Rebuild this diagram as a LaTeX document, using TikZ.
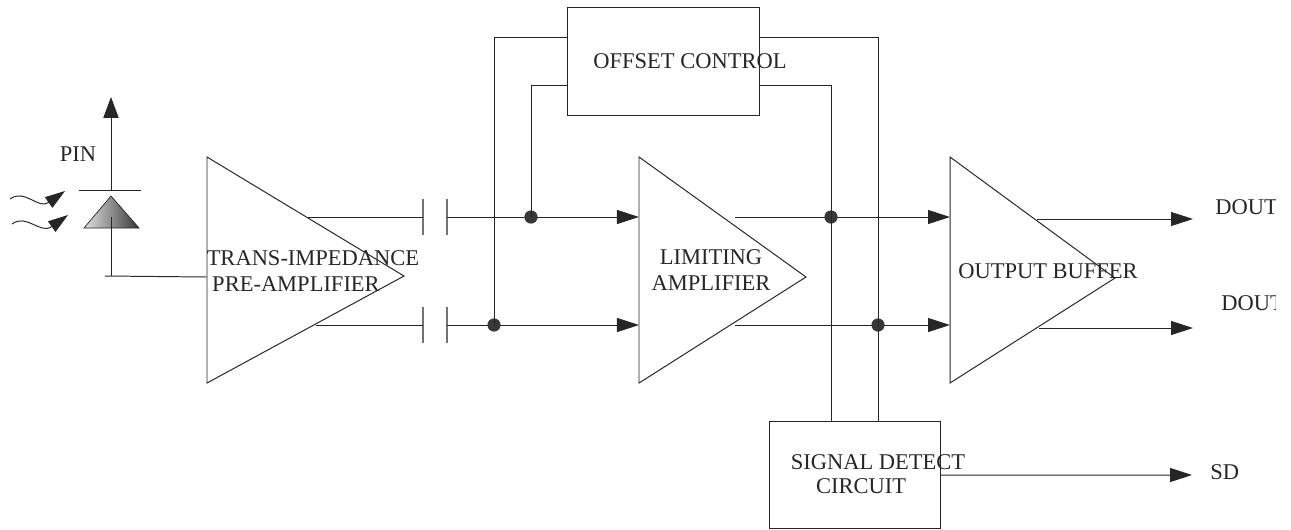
\documentclass[tikz,border=0pt]{standalone}
\usepackage{fontspec}
\setmainfont{Liberation Serif}
\usetikzlibrary{arrows.meta}

\begin{document}
\begin{tikzpicture}[x=0.025cm, y=-0.025cm, wireStyle/.style={draw=black!85, line width=0.7pt}, arrowStyle/.style={wireStyle, -{Triangle[length=0.55cm, width=0.35cm]}}, plateStyle/.style={draw=black!55, line width=1pt}, boxStyle/.style={rectangle, draw=black!85, line width=0.7pt, anchor=north west, inner sep=0}, textStyle/.style={font=\fontsize{16}{18.5}\selectfont, text=black!85, align=center, inner sep=0}, dotStyle/.style={circle, fill=black!78, minimum size=0.33cm, inner sep=0}]
                    \useasboundingbox (0,0) rectangle (1291,529);
                    \coordinate (tia_nw) at ( 207,157);
                    \coordinate (tia_sw) at ( 207,383);
                    \coordinate (tia_e)  at ( 404,276);
                    \coordinate (la_nw)  at ( 639,157);
                    \coordinate (la_sw)  at ( 639,383);
                    \coordinate (la_e)   at ( 806,277);
                    \coordinate (ob_nw)  at ( 950,157);
                    \coordinate (ob_sw)  at ( 950,383);
                    \coordinate (ob_e)   at (1115,278);
                    \draw[wireStyle] (tia_nw) -- (tia_e) -- (tia_sw) -- cycle;
                    \draw[wireStyle] (la_nw) -- (la_e) -- (la_sw) -- cycle;
                    \draw[wireStyle] (ob_nw) -- (ob_e) -- (ob_sw) -- cycle;
                    \node[textStyle] (tia_l1) at ( 313,258) {TRANS-IMPEDANCE};
                    \node[textStyle] (tia_l2) at ( 296,284) {PRE-AMPLIFIER};
                    \node[textStyle] (la)     at ( 711,270) {LIMITING\\AMPLIFIER};
                    \node[textStyle] (ob)     at (1048,271) {OUTPUT BUFFER};
                    \node[boxStyle, minimum width=4.8cm, minimum height=2.7cm] (oc) at (567,7) {};
                    \node[textStyle] (oc_text) at (690,61) {OFFSET CONTROL};
                    \node[boxStyle, minimum width=4.275cm, minimum height=2.675cm] (sd) at (769,421) {};
                    \node[textStyle] (sd_l1) at (878,462) {SIGNAL DETECT};
                    \node[textStyle] (sd_l2) at (861,486) {CIRCUIT};
                    \coordinate (pin_top) at (111, 97);
                    \coordinate (pin_bar) at (111,190);
                    \coordinate (pin_k)   at (111,217);
                    \coordinate (pin_low) at (111,276);
                    \coordinate (pin_end) at (105,276);
                    \coordinate (tia_in)  at (207,277);
                    \draw[wireStyle, -{Triangle[length=0.52cm, width=0.38cm]}] (pin_bar) -- (pin_top);
                    \draw[wireStyle] (79,190) -- (141,190);
                    \shadedraw[left color=black!12, right color=black!78, draw=black!85, line width=0.5pt] (111,196) -- (139,228) -- (84,228) -- cycle;
                    \draw[wireStyle] (pin_k) -- (pin_low);
                    \draw[wireStyle] (pin_end) -- (tia_in);
                    \draw[wireStyle, -{Triangle[length=0.5cm, width=0.32cm]}] (10,199) .. controls (25,188) and (38,210) .. (65,191);
                    \draw[wireStyle, -{Triangle[length=0.5cm, width=0.32cm]}] (12,224) .. controls (27,213) and (40,235) .. (68,215);
                    \node[textStyle] (pin) at (78,154) {PIN};
                    \coordinate (tia_o1) at (308,217);
                    \coordinate (tia_o2) at (316,325);
                    \coordinate (cap1_a) at (423,217);
                    \coordinate (cap1_b) at (447,217);
                    \coordinate (cap2_a) at (423,325);
                    \coordinate (cap2_b) at (447,325);
                    \draw[plateStyle] (423,199) -- (423,235);
                    \draw[plateStyle] (447,199) -- (447,235);
                    \draw[plateStyle] (423,307) -- (423,343);
                    \draw[plateStyle] (447,307) -- (447,343);
                    \coordinate (la_i1) at (639,217);
                    \coordinate (la_i2) at (639,325);
                    \coordinate (la_o1) at (735,217);
                    \coordinate (la_o2) at (735,325);
                    \coordinate (ob_i1) at (950,217);
                    \coordinate (ob_i2) at (950,325);
                    \coordinate (ob_o1) at (1037,219);
                    \coordinate (ob_o2) at (1039,328);
                    \coordinate (dout1) at (1193,219);
                    \coordinate (dout2) at (1193,328);
                    \coordinate (sd_o)  at (1192,475);
                    \draw[wireStyle] (tia_o1) -- (cap1_a);
                    \draw[wireStyle] (tia_o2) -- (cap2_a);
                    \draw[arrowStyle] (cap1_b) -- (la_i1);
                    \draw[arrowStyle] (cap2_b) -- (la_i2);
                    \draw[arrowStyle] (la_o1) -- (ob_i1);
                    \draw[arrowStyle] (la_o2) -- (ob_i2);
                    \draw[arrowStyle] (ob_o1) -- (dout1);
                    \draw[arrowStyle] (ob_o2) -- (dout2);
                    \draw[arrowStyle] (sd.east) -- (sd_o);
                    \node[dotStyle] (j_up1)  at (531,217) {};
                    \node[dotStyle] (j_low1) at (494,325) {};
                    \node[dotStyle] (j_up2)  at (831,217) {};
                    \node[dotStyle] (j_low2) at (878,325) {};
                    \coordinate (oc_l1) at (567, 37);
                    \coordinate (oc_l2) at (567, 85);
                    \coordinate (oc_r1) at (759, 37);
                    \coordinate (oc_r2) at (759, 85);
                    \coordinate (sd_t1) at (831,421);
                    \coordinate (sd_t2) at (878,421);
                    \draw[wireStyle] (j_low1.center) |- (oc_l1);
                    \draw[wireStyle] (j_up1.center) |- (oc_l2);
                    \draw[wireStyle] (oc_r1) -| (sd_t2);
                    \draw[wireStyle] (oc_r2) -| (sd_t1);
                    \begin{scope}
                    \clip (1200,180) rectangle (1275,330);
                    \node[textStyle, anchor=west] (dout1_text) at (1215,207) {DOUT};
                    \node[textStyle, anchor=west] (dout2_text) at (1221,303) {DOUT};
                    \end{scope}
                    \node[textStyle, anchor=west] (sd_text) at (1210,472) {SD};
                \end{tikzpicture}
\end{document}
